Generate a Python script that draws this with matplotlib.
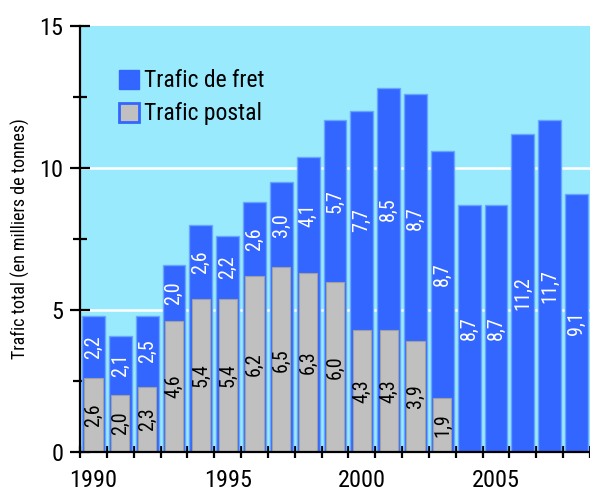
import numpy as np
import matplotlib.pyplot as plt
from matplotlib.patches import Patch

plt.rcParams['font.family'] = ['Roboto Condensed', 'DejaVu Sans']

# Données : trafic en milliers de tonnes
annees = [1990, 1991, 1992, 1993, 1994, 1995, 1996, 1997, 1998, 1999,
          2000, 2001, 2002, 2003, 2004, 2005, 2006, 2007, 2008]
trafic_postal = [2.6, 2.0, 2.3, 4.6, 5.4, 5.4, 6.2, 6.5, 6.3, 6.0,
                 4.3, 4.3, 3.9, 1.9, 0, 0, 0, 0, 0]
trafic_fret = [2.2, 2.1, 2.5, 2.0, 2.6, 2.2, 2.6, 3.0, 4.1, 5.7,
               7.7, 8.5, 8.7, 8.7, 8.7, 8.7, 11.2, 11.7, 9.1]
annees_affichees = [1990, 1995, 2000, 2005]

BLEU = '#3366FF'
CYAN = '#99EAFD'
GRIS = '#C0C0C0'

postal = np.array(trafic_postal)
fret = np.array(trafic_fret)
total = postal + fret
x = np.arange(len(annees))

fig = plt.figure(figsize=(5.9, 4.93), dpi=100)
ax = fig.add_axes([80 / 590, 1 - 452 / 493, 510 / 590, 426 / 493])
ax.set_facecolor(CYAN)

# lignes de grille blanches sous les barres
for yg in (5, 10):
    ax.axhline(yg, color='white', lw=1.8, zorder=0.5)

# barre bleue = total, barre grise inscrite = trafic postal
ax.bar(x, total, width=0.85, color=BLEU, edgecolor='#66A6FF', linewidth=1.0, zorder=2)
m = postal > 0
ax.bar(x[m], postal[m], width=0.68, color=GRIS, edgecolor='#A0A0A0', linewidth=0.8, zorder=3)

def fmt(v):
    return f'{v:.1f}'.replace('.', ',')

for xi, p, f in zip(x, postal, fret):
    if p > 0:
        ax.text(xi, p / 2, fmt(p), rotation=90, ha='center', va='center',
                color='black', fontsize=14.5, zorder=4)
    ax.text(xi, p + f / 2, fmt(f), rotation=90, ha='center', va='center',
            color='white', fontsize=14.5, zorder=4)

ax.set_xlim(-0.5, 18.4)
ax.set_ylim(0, 15)

for s in ('top', 'right'):
    ax.spines[s].set_visible(False)
for s in ('left', 'bottom'):
    ax.spines[s].set_linewidth(1.6)
    ax.spines[s].set_zorder(5)

ax.set_yticks([0, 5, 10, 15])
ax.set_yticks([2.5, 7.5, 12.5], minor=True)
ax.tick_params(axis='y', which='major', direction='inout', length=14, width=1.6,
               labelsize=17.5, pad=5)
ax.tick_params(axis='y', which='minor', direction='inout', length=10, width=1.6)

ax.set_xticks(np.arange(-0.5, 19, 1.0))
ax.set_xticklabels([])
ax.set_xticks([annees.index(a) for a in annees_affichees], minor=True)
ax.set_xticklabels([str(a) for a in annees_affichees], minor=True)
ax.tick_params(axis='x', which='major', direction='inout', length=9, width=1.6)
ax.tick_params(axis='x', which='minor', length=0, labelsize=17.5, pad=12)

ax.set_ylabel('Trafic total (en milliers de tonnes)', fontsize=13, labelpad=7)

poignees = [Patch(facecolor=BLEU, edgecolor=BLEU),
            Patch(facecolor=GRIS, edgecolor=BLEU, linewidth=2)]
ax.legend(poignees, ['Trafic de fret', 'Trafic postal'], loc='upper left',
          bbox_to_anchor=(0.035, 0.948), frameon=False, fontsize=17,
          handlelength=0.85, handleheight=0.85, handletextpad=0.22, labelspacing=0.42)

fig.savefig('out.png', dpi=100)
